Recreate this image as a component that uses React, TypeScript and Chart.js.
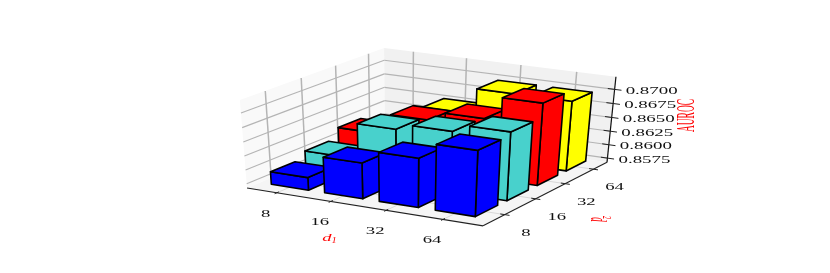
import React, { useEffect, useRef } from "react";
import { Chart, registerables } from "chart.js";

Chart.register(...registerables);

const d1Labels = ["8", "16", "32", "64"];
const d2Labels = ["8", "16", "32", "64"];
const zTicks = [0.8575, 0.86, 0.8625, 0.865, 0.8675, 0.87];
const seriesD2_8 = [0.859, 0.8631, 0.8654, 0.8682];
const seriesD2_16 = [0.8602, 0.8665, 0.8675, 0.8688];
const seriesD2_32 = [0.862, 0.8657, 0.8673, 0.8713];
const seriesD2_64 = [0.859, 0.8647, 0.8693, 0.8693];
const rowColors = ["#0000ff", "#48d1cc", "#ff0000", "#ffff00"];

const X_RANGE = [-0.56, 3.69];
const D_RANGE = [-0.68, 3.49];
const Z_RANGE = [0.8567, 0.8722];
const HALF_BAR = 0.35;
const BAR_D_OFFSET = 0.04;

// Where the corners of the 3D box land on the page (u, v, w -> px, py)
const BOX_CORNERS: number[][] = [
  [1, 0, 0, 483, 226],
  [0, 0, 0, 247, 188],
  [1, 1, 0, 607, 162],
  [0, 1, 0, 385, 131],
  [0, 0, 1, 240, 100],
  [0, 1, 1, 384, 48],
  [1, 1, 1, 616, 77],
];

function solveCamera(): number[] {
  const n = 11;
  const A: number[][] = Array.from({ length: n }, () => new Array(n + 1).fill(0));
  const add = (r: number[], b: number) => {
    for (let i = 0; i < n; i++) {
      for (let j = 0; j < n; j++) A[i][j] += r[i] * r[j];
      A[i][n] += r[i] * b;
    }
  };
  for (const [u, v, w, px, py] of BOX_CORNERS) {
    add([u, v, w, 1, 0, 0, 0, 0, -px * u, -px * v, -px * w], px);
    add([0, 0, 0, 0, u, v, w, 1, -py * u, -py * v, -py * w], py);
  }
  for (let i = 0; i < n; i++) A[i][i] += 1e-9;
  for (let c = 0; c < n; c++) {
    let p = c;
    for (let r = c + 1; r < n; r++) if (Math.abs(A[r][c]) > Math.abs(A[p][c])) p = r;
    [A[c], A[p]] = [A[p], A[c]];
    for (let r = 0; r < n; r++) {
      if (r === c) continue;
      const f = A[r][c] / A[c][c];
      for (let k = c; k <= n; k++) A[r][k] -= f * A[c][k];
    }
  }
  return A.map((row, i) => row[n] / row[i]);
}

const CAM = solveCamera();

const boxPlugin = {
  id: "box3d",
  afterDatasetsDraw(chart: any) {
    const { ctx, scales } = chart;
    const sx = scales.x;
    const sz = scales.y;
    const sd = scales.depth;
    const P = (x: number, d: number, z: number): [number, number] => {
      const u = (sx.getPixelForValue(x) - sx.left) / sx.width;
      const v = (sd.getPixelForValue(d) - sd.left) / sd.width;
      const w = (sz.bottom - sz.getPixelForValue(z)) / sz.height;
      const q = CAM[8] * u + CAM[9] * v + CAM[10] * w + 1;
      return [
        (CAM[0] * u + CAM[1] * v + CAM[2] * w + CAM[3]) / q,
        (CAM[4] * u + CAM[5] * v + CAM[6] * w + CAM[7]) / q,
      ];
    };
    const [x0, x1] = X_RANGE;
    const [d0, d1] = D_RANGE;
    const [z0, z1] = Z_RANGE;
    const poly = (pts: [number, number][], fill?: string, stroke?: string, lw = 1) => {
      ctx.beginPath();
      pts.forEach((p, i) => (i ? ctx.lineTo(p[0], p[1]) : ctx.moveTo(p[0], p[1])));
      ctx.closePath();
      if (fill) {
        ctx.fillStyle = fill;
        ctx.fill();
      }
      if (stroke) {
        ctx.strokeStyle = stroke;
        ctx.lineWidth = lw;
        ctx.lineJoin = "round";
        ctx.stroke();
      }
    };
    const seg = (a: [number, number], b: [number, number], c: string, lw: number) => {
      ctx.beginPath();
      ctx.moveTo(a[0], a[1]);
      ctx.lineTo(b[0], b[1]);
      ctx.strokeStyle = c;
      ctx.lineWidth = lw;
      ctx.stroke();
    };
    ctx.save();
    // panes
    poly([P(x0, d0, z0), P(x0, d1, z0), P(x0, d1, z1), P(x0, d0, z1)], "#f9f9f9");
    poly([P(x0, d1, z0), P(x1, d1, z0), P(x1, d1, z1), P(x0, d1, z1)], "#f1f1f1");
    poly([P(x0, d0, z0), P(x1, d0, z0), P(x1, d1, z0), P(x0, d1, z0)], "#f5f5f5");
    // grid
    const grid = "#b4b4b4";
    d1Labels.forEach((_, i) => {
      seg(P(i, d0, z0), P(i, d1, z0), "#d8d8d8", 1);
      seg(P(i, d1, z0), P(i, d1, z1), grid, 1.5);
    });
    d2Labels.forEach((_, j) => {
      seg(P(x0, j, z0), P(x1, j, z0), "#d8d8d8", 1);
      seg(P(x0, j, z0), P(x0, j, z1), grid, 1.5);
    });
    zTicks.forEach((z) => {
      seg(P(x0, d0, z), P(x0, d1, z), grid, 1.1);
      seg(P(x0, d1, z), P(x1, d1, z), grid, 1.1);
    });
    // axes
    seg(P(x0, d0, z0), P(x1, d0, z0), "#222", 1.1);
    seg(P(x1, d0, z0), P(x1, d1, z0), "#222", 1.1);
    seg(P(x1, d1, z0), P(x1, d1, z1), "#111", 1.2);
    d1Labels.forEach((_, i) => seg(P(i, d0 - 0.06, z0), P(i, d0 + 0.06, z0), "#222", 1));
    d2Labels.forEach((_, j) => seg(P(x1 - 0.08, j, z0), P(x1 + 0.08, j, z0), "#222", 1));
    zTicks.forEach((z) => seg(P(x1 - 0.12, d1, z), P(x1 + 0.12, d1, z), "#222", 1));

    // bars: far rows first, left to right
    for (let j = chart.data.datasets.length - 1; j >= 0; j--) {
      const data = chart.data.datasets[j].data;
      data.forEach((pt: any) => {
        const xa = pt.x - HALF_BAR;
        const xb = pt.x + HALF_BAR;
        const da = j + BAR_D_OFFSET - HALF_BAR;
        const db = j + BAR_D_OFFSET + HALF_BAR;
        const c = rowColors[j];
        const lw = 1.6;
        poly([P(xb, da, z0), P(xb, db, z0), P(xb, db, pt.y), P(xb, da, pt.y)], c, "#000", lw);
        poly([P(xa, da, z0), P(xb, da, z0), P(xb, da, pt.y), P(xa, da, pt.y)], c, "#000", lw);
        poly([P(xa, da, pt.y), P(xb, da, pt.y), P(xb, db, pt.y), P(xa, db, pt.y)], c, "#000", lw);
      });
    }

    // text, stretched like the reference
    const text = (
      s: string,
      x: number,
      y: number,
      font: string,
      color: string,
      scaleX: number,
      scaleY: number,
      rot = 0,
      align: CanvasTextAlign = "center"
    ) => {
      ctx.save();
      ctx.translate(x, y);
      ctx.scale(scaleX, scaleY);
      ctx.rotate(rot);
      ctx.font = font;
      ctx.fillStyle = color;
      ctx.textAlign = align;
      ctx.textBaseline = "middle";
      ctx.fillText(s, 0, 0);
      ctx.restore();
    };
    const tickFont = '11px "Liberation Serif"';
    d1Labels.forEach((s, i) => {
      const p = P(i, d0, z0);
      text(s, p[0] - 11, p[1] + 21, tickFont, "#111", 1.7, 1);
    });
    d2Labels.forEach((s, j) => {
      const p = P(x1, j, z0);
      text(s, p[0] + 21, p[1] + 18, tickFont, "#111", 1.7, 1);
    });
    zTicks.forEach((z) => {
      const p = P(x1, d1, z);
      text(z.toFixed(4), p[0] + 11, p[1] + 1.5, tickFont, "#111", 1.72, 1, 0, "left");
    });
    text("AUROC", 688, 115.5, '11px "Liberation Serif"', "#ff0000", 2.2, 0.86, -Math.PI / 2);
    text("d", 327, 238, 'italic 11px "Liberation Serif"', "#ff0000", 1.7, 0.95);
    text("1", 334, 241, 'italic 8px "Liberation Serif"', "#ff0000", 1.3, 0.95);
    text("d", 597, 219.5, 'italic 12px "Liberation Serif"', "#ff0000", 1.9, 0.75, Math.PI / 2);
    text("2", 606, 217.5, 'italic 9px "Liberation Serif"', "#ff0000", 1.3, 0.7, Math.PI / 2);
    ctx.restore();
  },
};

export default function App() {
  const ref = useRef<HTMLCanvasElement>(null);
  useEffect(() => {
    document.body.style.margin = "0";
    const rows = [seriesD2_8, seriesD2_16, seriesD2_32, seriesD2_64];
    const chart = new Chart(ref.current as HTMLCanvasElement, {
      type: "scatter",
      data: {
        datasets: rows.map((vals, j) => ({
          label: "d2=" + d2Labels[j],
          data: vals.map((y, i) => ({ x: i, y })),
          pointRadius: 0,
          backgroundColor: rowColors[j],
        })),
      },
      options: {
        responsive: false,
        animation: false,
        events: [],
        layout: { padding: 0 },
        plugins: { legend: { display: false }, tooltip: { enabled: false } },
        scales: {
          x: { type: "linear", min: X_RANGE[0], max: X_RANGE[1], display: false },
          y: { type: "linear", min: Z_RANGE[0], max: Z_RANGE[1], display: false },
          depth: { type: "linear", axis: "x", min: D_RANGE[0], max: D_RANGE[1], display: false },
        },
      },
      plugins: [boxPlugin],
    } as any);
    return () => chart.destroy();
  }, []);
  return <canvas ref={ref} width={830} height={273} style={{ display: "block" }} />;
}
